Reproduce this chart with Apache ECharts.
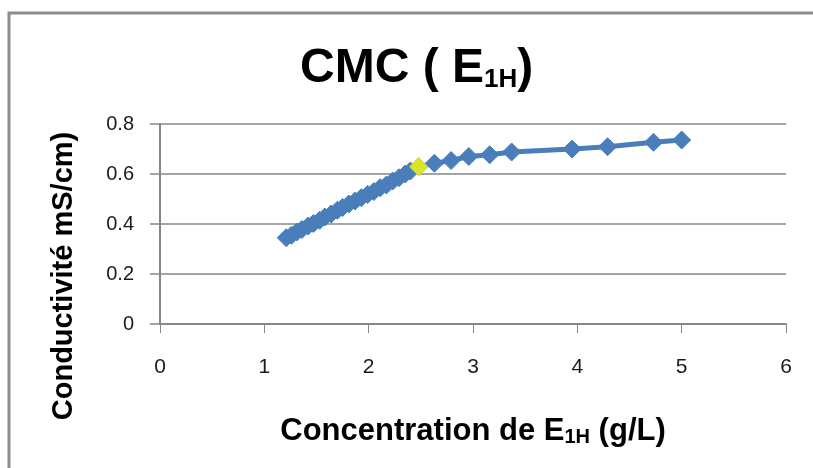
<!DOCTYPE html>
<html>
<head>
<meta charset="utf-8">
<script src="https://cdn.jsdelivr.net/npm/echarts@6/dist/echarts.min.js"></script>
<style>html,body{margin:0;padding:0;background:#fff;}#c{width:813px;height:468px;}</style>
</head>
<body>
<div id="c"></div>
<script>
// Concentration de E1H (g/L)
const concentration = [1.21, 1.26, 1.31, 1.36, 1.42, 1.47, 1.53, 1.58, 1.64, 1.70, 1.75, 1.81, 1.87, 1.93, 1.99, 2.05, 2.11, 2.17, 2.23, 2.29, 2.35, 2.40, 2.48, 2.63, 2.79, 2.96, 3.16, 3.37, 3.95, 4.29, 4.73, 5.00];
// Conductivité (mS/cm)
const conductivity = [0.345, 0.355, 0.368, 0.378, 0.392, 0.402, 0.415, 0.428, 0.440, 0.455, 0.466, 0.480, 0.492, 0.505, 0.518, 0.530, 0.545, 0.556, 0.572, 0.585, 0.600, 0.612, 0.629, 0.643, 0.654, 0.670, 0.677, 0.688, 0.700, 0.709, 0.727, 0.736];
// CMC point (highlighted)
const cmcPoint = [2.48, 0.629];
const xTicks = [0, 1, 2, 3, 4, 5, 6];
const yTicks = [0, 0.2, 0.4, 0.6, 0.8];

const lineData = concentration.map((x, i) => [x, conductivity[i]]);
const chart = echarts.init(document.getElementById('c'));
const font = 'Liberation Sans, Arial, sans-serif';
chart.setOption({
  animation: false,
  backgroundColor: '#fff',
  title: {
    text: '{a|CMC ( E}{b|1H}{a|)}',
    left: 295,
    top: 34,
    textStyle: {
      rich: {
        a: { fontFamily: font, fontSize: 48, fontWeight: 'bold', color: '#000', verticalAlign: 'bottom', lineHeight: 54 },
        b: { fontFamily: font, fontSize: 26, fontWeight: 'bold', color: '#000', verticalAlign: 'bottom', lineHeight: 40 }
      }
    }
  },
  grid: { left: 160, right: 27, top: 124, bottom: 144, containLabel: false },
  xAxis: {
    type: 'value',
    min: xTicks[0], max: xTicks[xTicks.length - 1], interval: 1,
    axisLine: { show: true, lineStyle: { color: '#868686', width: 2 } },
    axisTick: { show: true, length: 9, lineStyle: { color: '#868686', width: 1 } },
    splitLine: { show: false },
    axisLabel: { margin: 33, fontSize: 21, color: '#1a1a1a', fontFamily: font }
  },
  yAxis: {
    type: 'value',
    min: yTicks[0], max: yTicks[yTicks.length - 1], interval: 0.2,
    axisLine: { show: true, lineStyle: { color: '#868686', width: 2 } },
    axisTick: { show: true, length: 10, lineStyle: { color: '#868686', width: 1.5 } },
    splitLine: { show: true, lineStyle: { color: '#868686', width: 1.5 } },
    axisLabel: { margin: 26, fontSize: 20, color: '#1a1a1a', fontFamily: font, formatter: v => String(+v.toFixed(1)) }
  },
  graphic: [
    { type: 'rect', shape: { x: 9, y: 13, width: 1000, height: 800 }, style: { fill: 'none', stroke: '#8c8c8c', lineWidth: 3 }, z: 100 },
    { type: 'text', x: 473, y: 429, style: { text: '{a|Concentration de E}{b|1H}{a| (g/L)}', align: 'center', verticalAlign: 'middle',
      rich: { a: { fontFamily: font, fontSize: 31, fontWeight: 'bold', color: '#000', verticalAlign: 'bottom', lineHeight: 36 }, b: { fontFamily: font, fontSize: 20, fontWeight: 'bold', color: '#000', verticalAlign: 'bottom', lineHeight: 32 } } } },
    { type: 'text', x: 64, y: 276, rotation: Math.PI / 2, style: { text: 'Conductivité mS/cm)', align: 'center', verticalAlign: 'middle', fontFamily: font, fontSize: 29, fontWeight: 'bold', fill: '#000' } }
  ],
  series: [
    {
      type: 'line',
      data: lineData,
      symbol: 'diamond',
      symbolSize: 18,
      showAllSymbol: true,
      lineStyle: { color: '#4A7EBB', width: 5 },
      itemStyle: { color: '#4A7EBB', borderColor: '#4A7EBB', borderWidth: 1 },
      z: 2
    },
    {
      type: 'scatter',
      data: [cmcPoint],
      symbol: 'diamond',
      symbolSize: 19,
      itemStyle: { color: '#FFFF00', borderWidth: 0 },
      z: 3
    }
  ]
});
</script>
</body>
</html>
